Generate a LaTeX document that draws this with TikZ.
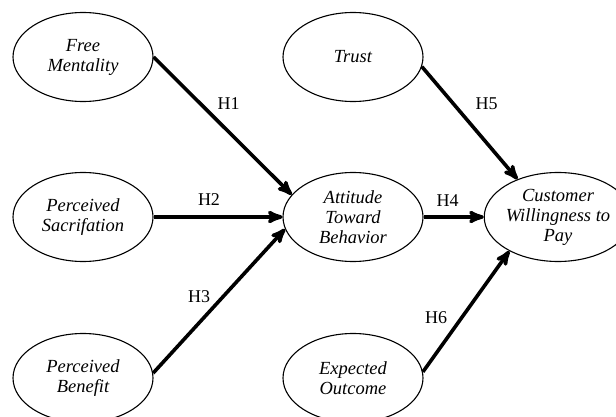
\documentclass[tikz,border=0pt]{standalone}
\usepackage{fontspec}
\setmainfont{Liberation Serif}
\usetikzlibrary{arrows,shapes.geometric}

\begin{document}
\begin{tikzpicture}[x=1pt,y=-1pt,>=stealth',
                    construct/.style={ellipse,draw,line width=1.1pt,minimum width=140pt,
                      minimum height=89pt,inner sep=0pt,align=center,
                      font=\fontsize{18.5}{20}\selectfont\itshape},
                    hyp/.style={->,line width=3.6pt}]
  \useasboundingbox (0,0) rectangle (616,417);
  \node[construct] (fm)  at (83,57)   {Free\\Mentality};
  \node[construct] (sac) at (83,217)  {Perceived\\Sacrifation};
  \node[construct] (ben) at (83,378)  {Perceived\\Benefit};
  \node[construct] (tr)  at (353,57)  {Trust};
  \node[construct] (att) at (353,217) {Attitude\\Toward\\Behavior};
  \node[construct] (exp) at (353,378) {Expected\\Outcome};
  \node[construct] (cwp) at (558,217) {Customer\\Willingness to\\Pay};
  \path[every node/.style={font=\fontsize{18}{20}\selectfont}]
    (fm.east) edge[hyp] node[pos=.5,xshift=6pt,yshift=22pt] {H1} (att.160)
    (sac.east) edge[hyp] node[pos=.5,xshift=-9pt,yshift=17pt] {H2} (att.west)
    (ben.4) edge[hyp] node[pos=.5,xshift=-20pt,yshift=4pt] {H3} (att.190)
    (att.east) edge[hyp] node[pos=.5,xshift=-6pt,yshift=16pt] {H4} (cwp.west)
    (tr.-8) edge[hyp] node[pos=.5,xshift=17pt,yshift=19pt] {H5} (cwp.137)
    (exp.5) edge[hyp] node[pos=.5,xshift=-30pt,yshift=-6pt] {H6} (cwp.215)
    ;
\end{tikzpicture}
\end{document}
